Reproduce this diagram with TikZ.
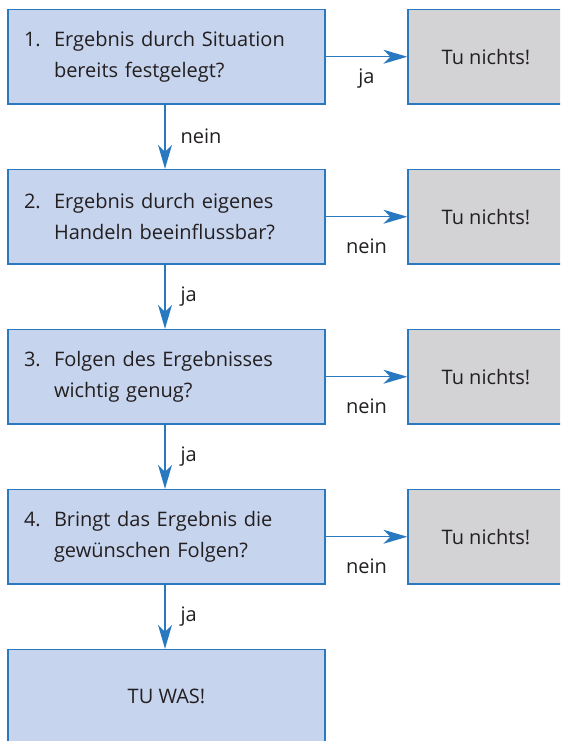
\documentclass[tikz,border=0pt]{standalone}
\usepackage{fontspec}
\setmainfont{Open Sans}
\usetikzlibrary{arrows.meta}
\definecolor{boxblue}{HTML}{C6D4EE}
\definecolor{edgeblue}{HTML}{2A79C0}
\definecolor{boxgray}{HTML}{D3D3D5}
\definecolor{txt}{HTML}{231F20}
\begin{document}
\begin{tikzpicture}[x=1pt,y=-1pt,
  every node/.style={text=txt, font=\fontsize{20}{31}\selectfont},
  qbox/.style={draw=edgeblue, line width=1.3pt, fill=boxblue, minimum width=317pt, minimum height=94.5pt, text width=285pt, align=left, inner xsep=16pt, inner ysep=0pt},
  gbox/.style={draw=edgeblue, line width=1.3pt, fill=boxgray, minimum width=156pt, minimum height=94.5pt, inner sep=0pt},
  wbox/.style={draw=edgeblue, line width=1.3pt, fill=boxblue, minimum width=317pt, minimum height=94.5pt, inner sep=0pt},
  flow/.style={draw=edgeblue, line width=1.3pt, -{Stealth[length=24pt,width=14pt,inset=7pt]}},
  lab/.style={inner sep=0pt}
]
\useasboundingbox (0,0) rectangle (560,741);
\begin{scope}
\clip (0,0) rectangle (560,741);
\node[qbox] (q1) at (166.5,56.75) {\makebox[30pt][l]{1.}Ergebnis durch Situation\\\hspace*{30pt}bereits festgelegt?};
\node[qbox] (q2) at (166.5,216.75) {\makebox[30pt][l]{2.}Ergebnis durch eigenes\\\hspace*{30pt}Handeln beeinflussbar?};
\node[qbox] (q3) at (166.5,376.75) {\makebox[30pt][l]{3.}Folgen des Ergebnisses\\\hspace*{30pt}wichtig genug?};
\node[qbox] (q4) at (166.5,536.75) {\makebox[30pt][l]{4.}Bringt das Ergebnis die\\\hspace*{30pt}gewünschen Folgen?};
\node[wbox] (w) at (166.5,696.75) {TU WAS!};
\node[gbox] (n1) at (486,56.75) {Tu nichts!};
\node[gbox] (n2) at (486,216.75) {Tu nichts!};
\node[gbox] (n3) at (486,376.75) {Tu nichts!};
\node[gbox] (n4) at (486,536.75) {Tu nichts!};
\draw[flow] (q1.east) -- node[lab, anchor=base, yshift=-27pt]{ja} (n1.west);
\draw[flow] (q2.east) -- node[lab, anchor=base, yshift=-37pt]{nein} (n2.west);
\draw[flow] (q3.east) -- node[lab, anchor=base, yshift=-37pt]{nein} (n3.west);
\draw[flow] (q4.east) -- node[lab, anchor=base, yshift=-37pt]{nein} (n4.west);
\draw[flow] ([xshift=-1.5pt]q1.south) -- node[lab, anchor=west, xshift=15pt]{nein} ([xshift=-1.5pt]q2.north);
\draw[flow] ([xshift=-1.5pt]q2.south) -- node[lab, anchor=west, xshift=15pt]{ja} ([xshift=-1.5pt]q3.north);
\draw[flow] ([xshift=-1.5pt]q3.south) -- node[lab, anchor=west, xshift=15pt]{ja} ([xshift=-1.5pt]q4.north);
\draw[flow] ([xshift=-1.5pt]q4.south) -- node[lab, anchor=west, xshift=15pt]{ja} ([xshift=-1.5pt]w.north);
\end{scope}
\end{tikzpicture}
\end{document}
